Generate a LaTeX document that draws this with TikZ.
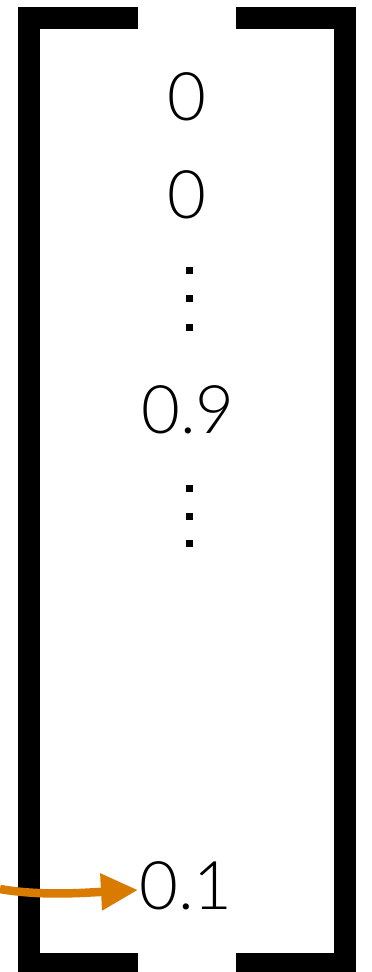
\documentclass[tikz,border=0pt]{standalone}
\usepackage{fontspec}
\setmainfont{Lato Light}
\usetikzlibrary{arrows.meta}
\definecolor{arrorange}{RGB}{217,123,0}
\begin{document}
\begin{tikzpicture}[x=1pt,y=-1pt,
  bracket/.style={line width=22pt, miter limit=10, line join=miter, line cap=butt},
  num/.style={font=\fontsize{67}{67}\selectfont, inner sep=0pt, anchor=base},
  vdot/.style={fill=black, minimum size=7pt, inner sep=0pt, draw=none, rectangle},
  pointer/.style={draw=arrorange, line width=8.5pt, -{Triangle[length=37pt,width=35pt]}}]
\useasboundingbox (0,0) rectangle (372,972);
\fill[white] (0,0) rectangle (372,972);
% brackets
\draw[bracket] (138,18) -- (29,18) -- (29,964) -- (138,964);
\draw[bracket] (236,18) -- (345,18) -- (345,964) -- (236,964);
% entries
\node[num] (a) at (187,120) {0};
\node[num] (b) at (187,218) {0};
\node[vdot] (d1) at (189,270) {};
\node[vdot] (d2) at (189,298) {};
\node[vdot] (d3) at (189,327) {};
\node[num] (c) at (188,433) {0.9};
\node[vdot] (d4) at (189,488) {};
\node[vdot] (d5) at (189,516) {};
\node[vdot] (d6) at (189,543) {};
\node[num] (e) at (186,909) {0.1};
% arrow
\coordinate (src) at (0,889);
\coordinate (tip) at (138,890);
\draw[pointer] (src) .. controls (40,896) and (80,893) .. (tip);
\end{tikzpicture}
\end{document}
